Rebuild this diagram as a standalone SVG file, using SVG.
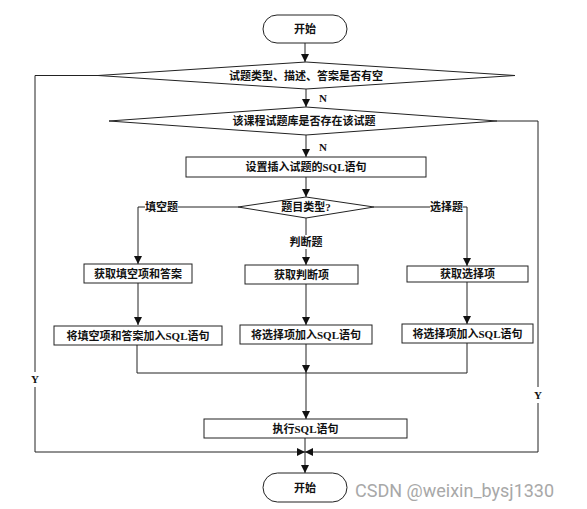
<svg xmlns="http://www.w3.org/2000/svg" width="587" height="509" viewBox="0 0 587 509">
<style>
.s{fill:#fff;stroke:#222;stroke-width:1}
.t{font-family:"Liberation Serif","Noto Sans CJK SC",serif;font-size:11px;font-weight:bold;fill:#111;text-anchor:middle}
.c{fill:none;stroke:#222;stroke-width:1}
.a{marker-end:url(#ah)}
.w{font-family:Roboto,"Liberation Sans",sans-serif;font-size:18px;fill:#a8a8a8}
</style>
<defs>
<marker id="ah" markerUnits="userSpaceOnUse" markerWidth="8" markerHeight="8" refX="8" refY="4" orient="auto">
<path d="M0,0 L8,4 L0,8 z" fill="#111"/>
</marker>
</defs>
<rect width="587" height="509" fill="#fff"/>
<g id="connectors">
<path class="c a" d="M305,43 V62"/>
<path class="c a" d="M306,89 V107"/>
<path class="c a" d="M306,135 V157"/>
<path class="c a" d="M306,177 V197"/>
<path class="c" d="M238,207 H178"/>
<path class="c a" d="M145,207 H138 V264"/>
<path class="c" d="M306,218 V235"/>
<path class="c a" d="M306,249 V265"/>
<path class="c" d="M374,207 H430"/>
<path class="c a" d="M463,207 H467 V266"/>
<path class="c a" d="M138,283 V325"/>
<path class="c a" d="M306,284 V325"/>
<path class="c a" d="M467,282 V324"/>
<path class="c" d="M137,345 V373 H467 V343"/>
<path class="c a" d="M306,344 V373"/>
<path class="c a" d="M306,373 V419"/>
<path class="c" d="M305,438 V452"/>
<path class="c a" d="M305,452 V473"/>
<path class="c" d="M98,75.5 H35 V372"/>
<path class="c a" d="M35,387 V452 H305"/>
<path class="c" d="M497,121 H538 V387"/>
<path class="c a" d="M538,403 V452 H305"/>
<text class="t" x="323" y="102">N</text>
<text class="t" x="323" y="151">N</text>
<text class="t" x="161.5" y="211">填空题</text>
<text class="t" x="306" y="246">判断题</text>
<text class="t" x="446.5" y="211">选择题</text>
<text class="t" x="35" y="383">Y</text>
<text class="t" x="538" y="399">Y</text>
</g>
<g id="start">
<rect class="s" x="263" y="15" width="84" height="28" rx="14"/>
<text class="t" x="305" y="33">开始</text>
</g>
<g id="check-empty">
<polygon class="s" points="98,75.5 306,62 515,75.5 306,89"/>
<text class="t" x="306" y="79.5">试题类型、描述、答案是否有空</text>
</g>
<g id="check-exists">
<polygon class="s" points="109,121 306,107 497,121 306,135"/>
<text class="t" x="304" y="125">该课程试题库是否存在该试题</text>
</g>
<g id="set-sql">
<rect class="s" x="186" y="157" width="240" height="20"/>
<text class="t" x="306" y="171">设置插入试题的SQL语句</text>
</g>
<g id="question-type">
<polygon class="s" points="238,207 306,197 374,207 306,218"/>
<text class="t" x="306" y="211">题目类型?</text>
</g>
<g id="get-fill">
<rect class="s" x="84" y="264" width="108" height="19"/>
<text class="t" x="138" y="277.5">获取填空项和答案</text>
</g>
<g id="get-judge">
<rect class="s" x="245" y="265" width="113" height="19"/>
<text class="t" x="301.5" y="278.5">获取判断项</text>
</g>
<g id="get-choice">
<rect class="s" x="407" y="266" width="121" height="16"/>
<text class="t" x="467.5" y="278">获取选择项</text>
</g>
<g id="add-fill">
<rect class="s" x="54" y="326" width="168" height="19"/>
<text class="t" x="138" y="339.5">将填空项和答案加入SQL语句</text>
</g>
<g id="add-judge">
<rect class="s" x="240" y="325" width="132" height="19"/>
<text class="t" x="306" y="338.5">将选择项加入SQL语句</text>
</g>
<g id="add-choice">
<rect class="s" x="402" y="324" width="131" height="19"/>
<text class="t" x="467.5" y="337.5">将选择项加入SQL语句</text>
</g>
<g id="exec-sql">
<rect class="s" x="204" y="419" width="203" height="19"/>
<text class="t" x="305.5" y="432.5">执行SQL语句</text>
</g>
<g id="end">
<rect class="s" x="263" y="473" width="84" height="29" rx="14.5"/>
<text class="t" x="305" y="491.5">开始</text>
</g>
<text class="w" x="355" y="497">CSDN @weixin_bysj1330</text>
</svg>
